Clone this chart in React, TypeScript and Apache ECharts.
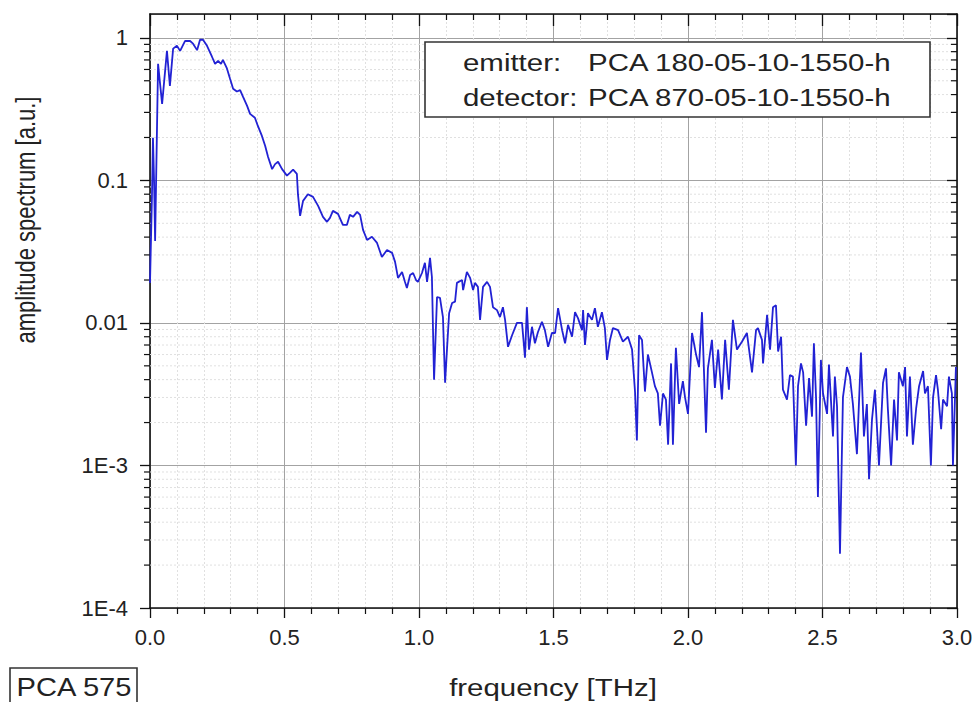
import React, { useEffect, useRef } from "react";
import * as echarts from "echarts";

// frequency [THz]
const frequency = [
  0.000, 0.007, 0.011, 0.015, 0.019, 0.030, 0.045, 0.063, 0.074, 0.086,
  0.100, 0.112, 0.130, 0.149, 0.160, 0.175, 0.186, 0.197, 0.212, 0.230,
  0.242, 0.253, 0.264, 0.271, 0.286, 0.297, 0.309, 0.323, 0.335, 0.346,
  0.361, 0.372, 0.390, 0.401, 0.416, 0.428, 0.439, 0.454, 0.465, 0.476,
  0.491, 0.509, 0.520, 0.532, 0.546, 0.550, 0.558, 0.569, 0.587, 0.606,
  0.625, 0.643, 0.658, 0.669, 0.680, 0.699, 0.717, 0.732, 0.743, 0.755,
  0.770, 0.781, 0.792, 0.807, 0.825, 0.844, 0.862, 0.881, 0.900, 0.911,
  0.922, 0.937, 0.948, 0.955, 0.967, 0.978, 0.989, 0.996, 1.011, 1.022,
  1.030, 1.041, 1.048, 1.056, 1.067, 1.078, 1.089, 1.097, 1.104, 1.112,
  1.123, 1.134, 1.141, 1.160, 1.164, 1.178, 1.190, 1.201, 1.208, 1.219,
  1.227, 1.238, 1.253, 1.264, 1.275, 1.290, 1.301, 1.312, 1.320, 1.331,
  1.346, 1.364, 1.383, 1.394, 1.401, 1.409, 1.420, 1.431, 1.442, 1.457,
  1.468, 1.480, 1.494, 1.506, 1.517, 1.532, 1.543, 1.554, 1.569, 1.580,
  1.591, 1.606, 1.610, 1.617, 1.628, 1.643, 1.654, 1.665, 1.680, 1.691,
  1.699, 1.710, 1.721, 1.740, 1.758, 1.777, 1.792, 1.803, 1.810, 1.818,
  1.829, 1.840, 1.851, 1.866, 1.877, 1.888, 1.896, 1.907, 1.918, 1.926,
  1.937, 1.944, 1.955, 1.967, 1.981, 1.989, 2.000, 2.015, 2.030, 2.041,
  2.052, 2.067, 2.074, 2.089, 2.100, 2.112, 2.126, 2.138, 2.152, 2.167,
  2.182, 2.201, 2.219, 2.238, 2.253, 2.260, 2.275, 2.279, 2.294, 2.305,
  2.316, 2.327, 2.335, 2.346, 2.353, 2.368, 2.379, 2.390, 2.401, 2.409,
  2.420, 2.428, 2.439, 2.450, 2.461, 2.468, 2.476, 2.483, 2.494, 2.502,
  2.517, 2.524, 2.539, 2.546, 2.554, 2.565, 2.576, 2.591, 2.602, 2.613,
  2.628, 2.643, 2.654, 2.665, 2.673, 2.684, 2.695, 2.710, 2.725, 2.736,
  2.743, 2.755, 2.766, 2.777, 2.784, 2.799, 2.807, 2.814, 2.825, 2.836,
  2.848, 2.859, 2.874, 2.881, 2.892, 2.903, 2.911, 2.922, 2.929, 2.941,
  2.948, 2.963, 2.970, 2.981, 2.985, 2.996,
];

// amplitude spectrum [a.u.]
const amplitude = [
  0.0191, 0.073, 0.199, 0.101, 0.0376, 0.657, 0.344, 0.81, 0.46, 0.84,
  0.88, 0.81, 0.95, 0.95, 0.91, 0.82, 0.97, 0.97, 0.88, 0.74,
  0.657, 0.69, 0.657, 0.70, 0.61, 0.52, 0.44, 0.42, 0.43, 0.385,
  0.333, 0.293, 0.275, 0.241, 0.205, 0.175, 0.146, 0.120, 0.130, 0.135,
  0.120, 0.108, 0.113, 0.119, 0.111, 0.080, 0.0563, 0.0718, 0.080, 0.0766,
  0.0662, 0.0555, 0.0512, 0.0546, 0.0611, 0.0582, 0.0487, 0.0487, 0.0573, 0.0555,
  0.0601, 0.0573, 0.045, 0.0382, 0.0402, 0.0364, 0.0290, 0.0325, 0.031, 0.0268,
  0.0207, 0.0228, 0.0194, 0.0176, 0.0217, 0.0224, 0.020, 0.0194, 0.0224, 0.0264,
  0.0194, 0.0286, 0.021, 0.0040, 0.0152, 0.015, 0.011, 0.0038, 0.0065, 0.0117,
  0.0138, 0.0141, 0.0191, 0.020, 0.017, 0.0228, 0.0207, 0.017, 0.0191, 0.0179,
  0.0105, 0.0179, 0.0194, 0.0179, 0.0129, 0.0123, 0.011, 0.0129, 0.0105, 0.0068,
  0.0082, 0.010, 0.010, 0.0057, 0.0129, 0.0065, 0.0094, 0.0072, 0.0086, 0.0102,
  0.0089, 0.0068, 0.0085, 0.0085, 0.0127, 0.0089, 0.0072, 0.0097, 0.008, 0.0119,
  0.0108, 0.0089, 0.0123, 0.0070, 0.0117, 0.0105, 0.0127, 0.0094, 0.0119, 0.0092,
  0.0055, 0.0076, 0.0092, 0.0089, 0.0074, 0.008, 0.0065, 0.0033, 0.0015, 0.0082,
  0.0076, 0.0033, 0.006, 0.0045, 0.0036, 0.0032, 0.0019, 0.0032, 0.0029, 0.0014,
  0.0052, 0.0014, 0.0067, 0.0027, 0.0039, 0.003, 0.0023, 0.0085, 0.006, 0.0049,
  0.0119, 0.0017, 0.0048, 0.0076, 0.0035, 0.0065, 0.0029, 0.0076, 0.0034, 0.0105,
  0.0065, 0.0074, 0.0085, 0.0045, 0.0089, 0.0092, 0.0076, 0.0052, 0.0114, 0.0065,
  0.0129, 0.0133, 0.0063, 0.008, 0.0034, 0.0029, 0.0043, 0.0042, 0.001, 0.0036,
  0.0052, 0.0045, 0.0019, 0.0041, 0.0022, 0.0072, 0.003, 0.0006, 0.0055, 0.0032,
  0.0023, 0.0051, 0.0016, 0.0042, 0.0026, 0.00024, 0.003, 0.0049, 0.0042, 0.0027,
  0.0012, 0.0062, 0.0016, 0.0027, 0.0008, 0.0021, 0.0034, 0.001, 0.0038, 0.0048,
  0.0025, 0.001, 0.0029, 0.0015, 0.0045, 0.0036, 0.0049, 0.0016, 0.0042, 0.0014,
  0.0025, 0.0036, 0.0046, 0.0032, 0.0036, 0.001, 0.003, 0.0043, 0.0034, 0.0018,
  0.0029, 0.0026, 0.0042, 0.0032, 0.001, 0.0049,
];

const xMin = 0;
const xMax = 3;
const xInterval = 0.5;
const yMin = 1e-4;
const yMax = 1.47;

// decade exponent -> tick label
const yTickLabels: Record<string, string> = {
  "-4": "1E-4",
  "-3": "1E-3",
  "-2": "0.01",
  "-1": "0.1",
  "0": "1",
};
const minorDecades = [-4, -3, -2, -1];
const minorMultipliers = [2, 3, 4, 5, 6, 7, 8, 9];

const legendLabels = ["emitter:", "detector:"];
const legendValues = ["PCA 180-05-10-1550-h", "PCA 870-05-10-1550-h"];
const xName = "frequency [THz]";
const yName = "amplitude spectrum [a.u.]";
const sampleName = "PCA 575";

const FONT = "'Liberation Sans', Arial, Helvetica, sans-serif";
const INK = "#111111";

export default function App() {
  const ref = useRef<HTMLDivElement>(null);

  useEffect(() => {
    if (!ref.current) return;
    const chart = echarts.init(ref.current, undefined, { renderer: "svg" });

    const lineData = frequency.map((f, i) => [f, amplitude[i]]);
    const minorData: number[][] = [];
    minorDecades.forEach((e) =>
      minorMultipliers.forEach((m) => minorData.push([xMin, m * Math.pow(10, e)]))
    );

    const yLabelFormatter = (v: number) => {
      const e = Math.log10(v);
      const r = Math.round(e);
      if (Math.abs(e - r) > 1e-6) return "";
      return yTickLabels[String(r)] ?? "";
    };

    const axisLine = { show: true, onZero: false, lineStyle: { color: INK, width: 1.6 } };

    const option: any = {
      animation: false,
      backgroundColor: "#ffffff",
      grid: { left: 150, right: 19, top: 14, bottom: 94, containLabel: false },
      xAxis: [
        {
          type: "value",
          position: "bottom",
          min: xMin,
          max: xMax,
          interval: xInterval,
          axisLine,
          axisTick: { show: true, length: 10, lineStyle: { color: INK, width: 1.3 } },
          minorTick: { show: true, splitNumber: 5, length: 6, lineStyle: { color: INK, width: 1.2 } },
          axisLabel: {
            formatter: (v: number) => v.toFixed(1),
            fontSize: 22,
            fontFamily: FONT,
            color: "#222",
            margin: 18,
          },
          splitLine: { show: true, lineStyle: { color: "#a3a3a3", width: 1 } },
          minorSplitLine: { show: true, lineStyle: { color: "#e0e0e0", width: 1, type: [2, 2] } },
        },
        {
          type: "value",
          position: "top",
          min: xMin,
          max: xMax,
          interval: xInterval,
          axisLine,
          axisTick: { show: true, inside: true, length: 12, lineStyle: { color: INK, width: 1.3 } },
          minorTick: { show: true, splitNumber: 5, length: 6, lineStyle: { color: INK, width: 1.2 } },
          axisLabel: { show: false },
          splitLine: { show: false },
        },
      ],
      yAxis: [
        {
          type: "log",
          logBase: 10,
          position: "left",
          min: yMin,
          max: yMax,
          axisLine,
          axisTick: { show: true, length: 10, lineStyle: { color: INK, width: 1.3 } },
          axisLabel: {
            formatter: yLabelFormatter,
            fontSize: 22,
            fontFamily: FONT,
            color: "#222",
            margin: 22,
            showMaxLabel: false,
          },
          splitLine: { show: true, lineStyle: { color: "#a3a3a3", width: 1 } },
        },
        {
          type: "log",
          logBase: 10,
          position: "right",
          min: yMin,
          max: yMax,
          axisLine,
          axisTick: { show: true, inside: true, length: 10, lineStyle: { color: INK, width: 1.3 } },
          axisLabel: { show: false },
          splitLine: { show: false },
        },
      ],
      series: [
        {
          type: "custom",
          xAxisIndex: 0,
          yAxisIndex: 0,
          silent: true,
          z: 1,
          data: minorData,
          renderItem: (_params: any, api: any) => {
            const v = api.value(1);
            const p0 = api.coord([xMin, v]);
            const p1 = api.coord([xMax, v]);
            return {
              type: "group",
              children: [
                {
                  type: "line",
                  shape: { x1: p0[0], y1: p0[1], x2: p1[0], y2: p1[1] },
                  style: { stroke: "#e0e0e0", lineWidth: 1, lineDash: [2, 2] },
                },
                {
                  type: "line",
                  shape: { x1: p0[0] - 6, y1: p0[1], x2: p0[0], y2: p0[1] },
                  style: { stroke: INK, lineWidth: 1.2 },
                },
                {
                  type: "line",
                  shape: { x1: p1[0] - 6, y1: p1[1], x2: p1[0], y2: p1[1] },
                  style: { stroke: INK, lineWidth: 1.2 },
                },
              ],
            };
          },
        },
        {
          type: "line",
          xAxisIndex: 0,
          yAxisIndex: 0,
          z: 5,
          data: lineData,
          showSymbol: false,
          symbol: "none",
          clip: true,
          lineStyle: { color: "#2222d4", width: 1.8 },
        },
      ],
      graphic: [
        {
          type: "rect",
          z: 100,
          shape: { x: 425, y: 42, width: 505, height: 75 },
          style: { fill: "#ffffff", stroke: "#333", lineWidth: 1.6 },
        },
        ...legendLabels.map((t, i) => ({
          type: "text",
          z: 101,
          x: 463,
          y: 63 + i * 35,
          scaleX: 1.28,
          style: {
            text: t,
            fontSize: 23,
            fontFamily: FONT,
            fill: "#222",
            align: "left",
            verticalAlign: "middle",
          },
        })),
        ...legendValues.map((t, i) => ({
          type: "text",
          z: 101,
          x: 588,
          y: 63 + i * 35,
          scaleX: 1.28,
          style: {
            text: t,
            fontSize: 23,
            fontFamily: FONT,
            fill: "#222",
            align: "left",
            verticalAlign: "middle",
          },
        })),
        {
          type: "text",
          z: 101,
          x: 553,
          y: 688,
          scaleX: 1.28,
          style: {
            text: xName,
            fontSize: 23,
            fontFamily: FONT,
            fill: "#222",
            align: "center",
            verticalAlign: "middle",
          },
        },
        {
          type: "text",
          z: 101,
          x: 25,
          y: 220,
          rotation: Math.PI / 2,
          scaleY: 1.25,
          style: {
            text: yName,
            fontSize: 22,
            fontFamily: FONT,
            fill: "#222",
            align: "center",
            verticalAlign: "middle",
          },
        },
        {
          type: "rect",
          z: 100,
          shape: { x: 10, y: 668, width: 127, height: 40 },
          style: { fill: "#ffffff", stroke: "#333", lineWidth: 1.6 },
        },
        {
          type: "text",
          z: 101,
          x: 74,
          y: 687,
          scaleX: 1.12,
          style: {
            text: sampleName,
            fontSize: 26,
            fontFamily: FONT,
            fill: "#222",
            align: "center",
            verticalAlign: "middle",
          },
        },
      ],
    };

    chart.setOption(option);
    return () => chart.dispose();
  }, []);

  return (
    <div
      ref={ref}
      style={{ position: "fixed", left: 0, top: 0, width: 976, height: 702, background: "#fff" }}
    />
  );
}
